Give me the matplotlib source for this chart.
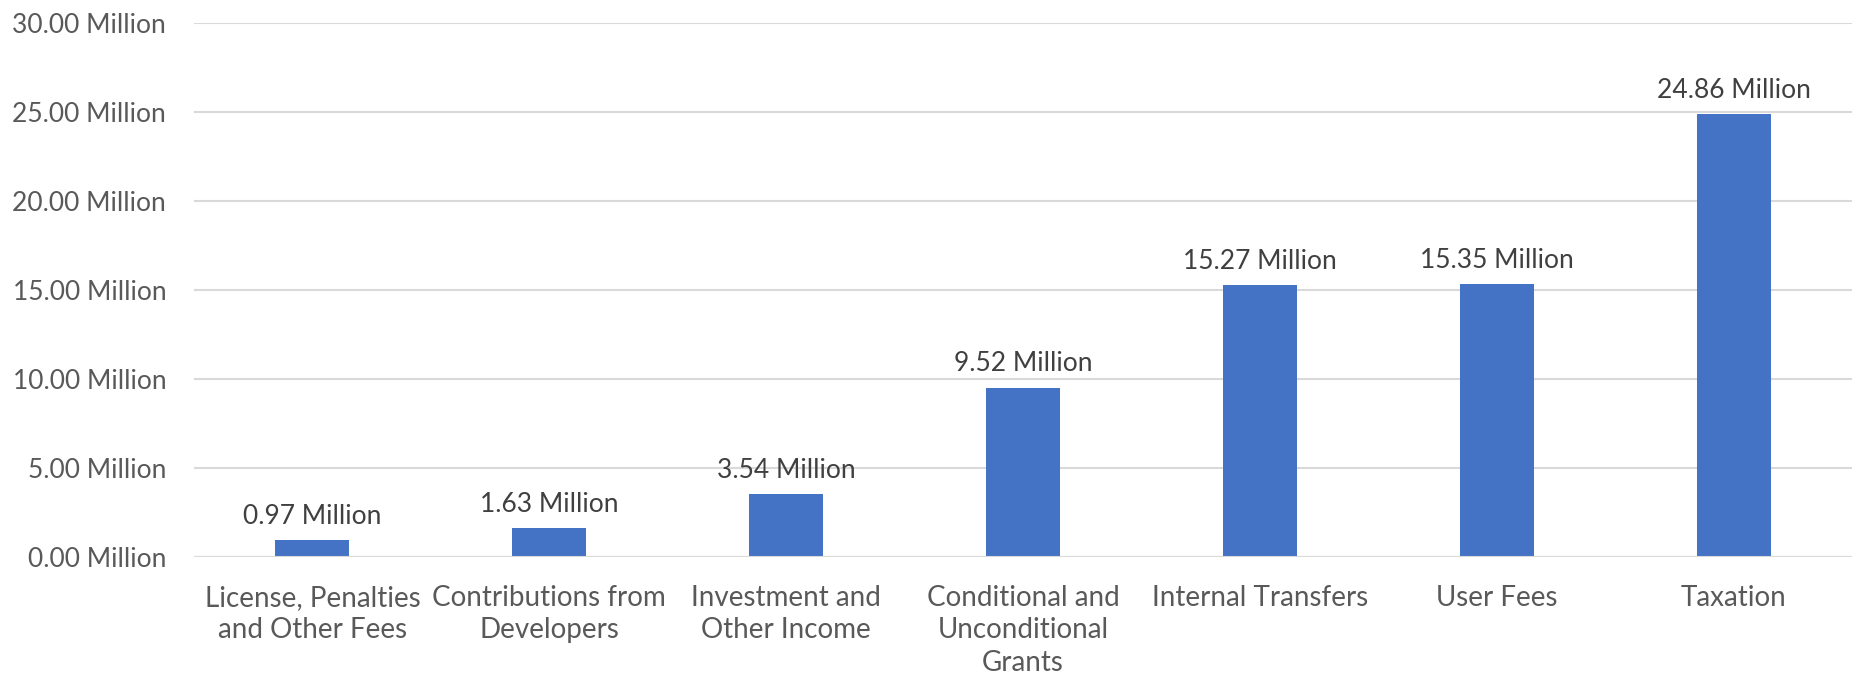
import matplotlib

matplotlib.use('Agg')
import matplotlib.pyplot as plt
from matplotlib.ticker import FuncFormatter

# Доходы по источникам, млн
categories = [
    'License, Penalties\nand Other Fees',
    'Contributions from\nDevelopers',
    'Investment and\nOther Income',
    'Conditional and\nUnconditional\nGrants',
    'Internal Transfers',
    'User Fees',
    'Taxation',
]
values = [0.97, 1.63, 3.54, 9.52, 15.27, 15.35, 24.86]
y_ticks = [0, 5, 10, 15, 20, 25, 30]

plt.rcParams['font.family'] = ['Lato', 'DejaVu Sans']

fig = plt.figure(figsize=(18.56, 6.8), dpi=100)
ax = fig.add_axes([194 / 1856, 1 - 557 / 680, (1852 - 194) / 1856, (557 - 23) / 680])

x = range(len(categories))
bars = ax.bar(x, values, width=0.313, color='#4472C4', zorder=3)

for rect, v in zip(bars, values):
    ax.annotate(f'{v:.2f} Million',
                (rect.get_x() + rect.get_width() / 2, rect.get_height()),
                xytext=(0, 8), textcoords='offset points',
                ha='center', va='bottom', fontsize=19, color='#404040')

ax.set_xlim(-0.5, len(categories) - 0.5)
ax.set_ylim(0, 30)
ax.set_yticks(y_ticks)
ax.yaxis.set_major_formatter(FuncFormatter(lambda v, _: f'{v:.2f} Million'))
ax.set_xticks(list(x))
ax.set_xticklabels(categories, linespacing=1.31)

ax.tick_params(axis='y', length=0, pad=20, labelsize=19, labelcolor='#595959')
ax.tick_params(axis='x', length=0, pad=20, labelsize=20, labelcolor='#595959')

ax.grid(axis='y', color='#d9d9d9', linewidth=1.5, zorder=0)
for side in ['top', 'right', 'left', 'bottom']:
    ax.spines[side].set_visible(False)
ax.axhline(0, color='#d9d9d9', linewidth=1.5, zorder=4)

plt.savefig('out.png', dpi=100)
plt.close()
